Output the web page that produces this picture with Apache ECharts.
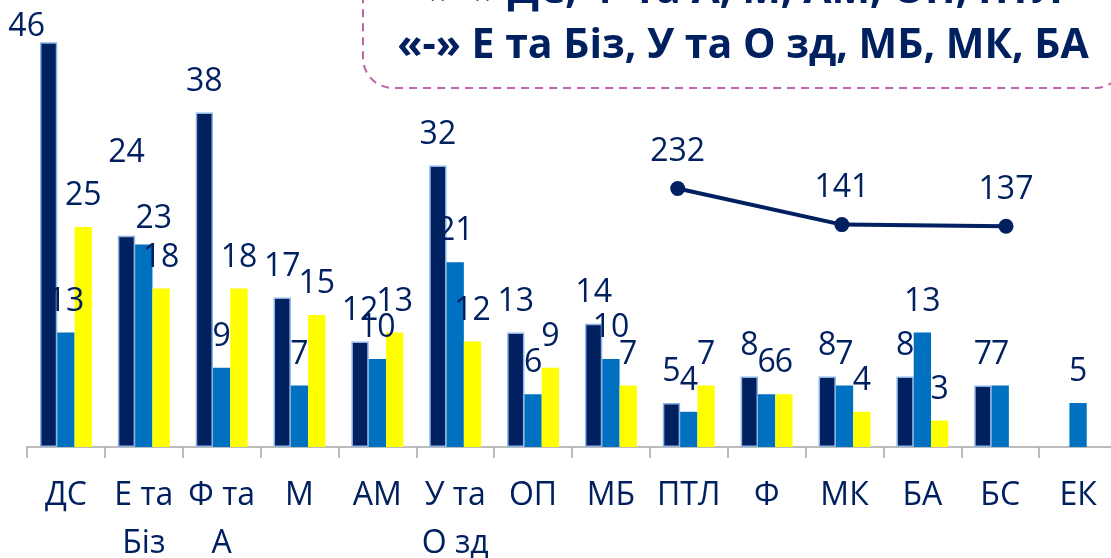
<!DOCTYPE html>
<html><head><meta charset="utf-8">
<script src="https://cdn.jsdelivr.net/npm/echarts@6/dist/echarts.min.js"></script>
<style>html,body{margin:0;padding:0;background:#fff}#c{width:1111px;height:558px}</style>
</head><body><div id="c"></div>
<script>
const categories = ['ДС','Е та Біз','Ф та А','М','АМ','У та О зд','ОП','МБ','ПТЛ','Ф','МК','БА','БС','ЕК'];
const seriesDark = [46,24,38,17,12,32,13,14,5,8,8,8,7,null];
const seriesBlue = [13,23,9,7,10,21,6,10,4,6,7,13,7,5];
const seriesYellow = [25,18,18,15,13,12,9,7,7,6,4,3,null,null];
const lineCategories = ['ПТЛ','МК','БС'];
const lineValues = [232,141,137];
const boxLines = ['«+» ДС, Ф та А, М, АМ, ОП, ПТЛ','«-» Е та Біз, У та О зд, МБ, МК, БА'];

// label nudges (layout only, in px) keyed by category index
const labelNudges = { dark: {0: [-22, 16], 1: [0, -52]}, blue: {1: [10, 5]}, yellow: {} };

const NAVY = '#002060';
const FONT = '"Open Sans", "Noto Sans", sans-serif';

function buildData(values, nudges) {
  return values.map((v, i) => {
    if (v == null) return null;
    if (nudges[i]) return { value: v, label: { offset: nudges[i] } };
    return v;
  });
}

const labelBase = {
  show: true, position: 'top', distance: 15,
  color: NAVY, fontSize: 32, lineHeight: 32, fontFamily: FONT
};

const chart = echarts.init(document.getElementById('c'));
chart.setOption({
  animation: false,
  backgroundColor: '#fff',
  grid: [
    { left: 27, right: -6, top: 7, bottom: 111, outerBoundsMode: 'none', containLabel: false },
    { left: 677.7, right: 105, top: 7, bottom: 111, outerBoundsMode: 'none', containLabel: false }
  ],
  xAxis: [
    {
      type: 'category', gridIndex: 0, data: categories,
      axisLine: { lineStyle: { color: '#a6a6a6', width: 1.5 } },
      axisTick: { show: true, length: 11, lineStyle: { color: '#a6a6a6', width: 1.5 } },
      axisLabel: {
        interval: 0, margin: 25, color: NAVY, fontSize: 32, lineHeight: 48, fontFamily: FONT,
        formatter: v => v.replace(' та ', ' та\n')
      }
    },
    { type: 'category', gridIndex: 1, data: lineCategories, boundaryGap: false, show: false }
  ],
  yAxis: [
    { type: 'value', gridIndex: 0, min: 0, max: 50, show: false, splitLine: { show: false } },
    { type: 'value', gridIndex: 1, min: -420, max: 690, show: false, splitLine: { show: false } }
  ],
  series: [
    {
      name: 'Ряд 1', type: 'bar', xAxisIndex: 0, yAxisIndex: 0,
      data: buildData(seriesDark, labelNudges.dark),
      barWidth: 17.3, barGap: '0%',
      itemStyle: { color: NAVY, borderColor: '#8db4e2', borderWidth: 1.5 },
      label: labelBase
    },
    {
      name: 'Ряд 2', type: 'bar', xAxisIndex: 0, yAxisIndex: 0,
      data: buildData(seriesBlue, labelNudges.blue),
      barWidth: 17.3, barGap: '0%',
      itemStyle: { color: '#0070c0' },
      label: labelBase
    },
    {
      name: 'Ряд 3', type: 'bar', xAxisIndex: 0, yAxisIndex: 0,
      data: buildData(seriesYellow, labelNudges.yellow),
      barWidth: 17.3, barGap: '0%',
      itemStyle: { color: '#ffff00' },
      label: labelBase
    },
    {
      name: 'Ряд 4', type: 'line', xAxisIndex: 1, yAxisIndex: 1,
      data: lineValues,
      symbol: 'circle', symbolSize: 15,
      lineStyle: { color: NAVY, width: 4 },
      itemStyle: { color: NAVY },
      label: Object.assign({}, labelBase, { distance: 13 }),
      z: 5
    }
  ],
  graphic: [
    {
      type: 'rect', z: 1,
      shape: { x: 363, y: -80, width: 762, height: 168, r: 30 },
      style: { fill: '#fff', stroke: '#bd65a8', lineWidth: 2, lineDash: [8, 6] }
    },
    {
      type: 'text', z: 2, x: 743, y: -9,
      style: { text: boxLines[0], font: 'bold 41px ' + FONT, fill: NAVY,
               textAlign: 'center', textVerticalAlign: 'middle', align: 'center', verticalAlign: 'middle' }
    },
    {
      type: 'text', z: 2, x: 743, y: 46,
      style: { text: boxLines[1], font: 'bold 41px ' + FONT, fill: NAVY,
               textAlign: 'center', textVerticalAlign: 'middle', align: 'center', verticalAlign: 'middle' }
    }
  ]
});
</script>
</body></html>
